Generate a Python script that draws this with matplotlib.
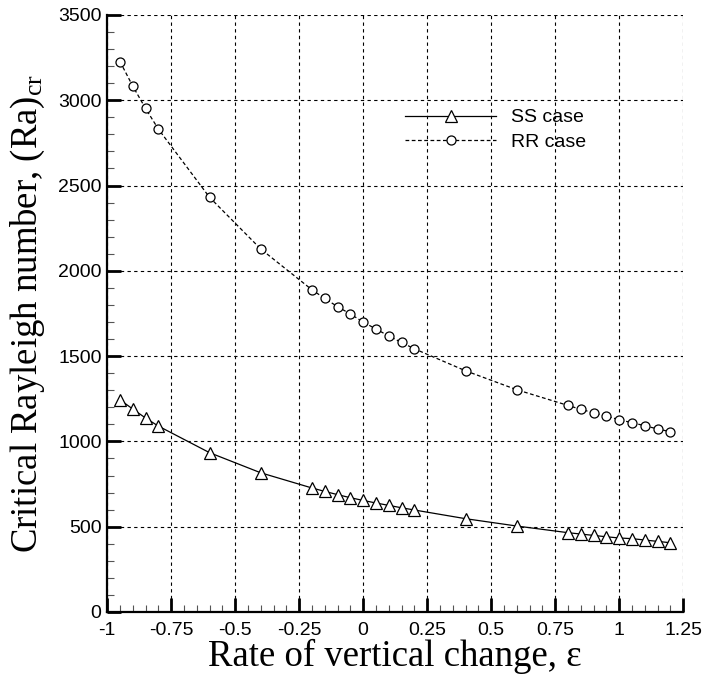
import matplotlib
matplotlib.use("Agg")
import matplotlib.pyplot as plt
from matplotlib.ticker import MultipleLocator, FixedLocator, FixedFormatter

plt.rcParams["mathtext.fontset"] = "custom"
plt.rcParams["mathtext.rm"] = "Liberation Serif"
plt.rcParams["mathtext.it"] = "Liberation Serif:italic"

eps = [-0.95, -0.9, -0.85, -0.8, -0.6, -0.4, -0.2, -0.15, -0.1, -0.05, 0.0,
       0.05, 0.1, 0.15, 0.2, 0.4, 0.6, 0.8, 0.85, 0.9, 0.95, 1.0, 1.05, 1.1,
       1.15, 1.2]
ss_case = [1244, 1190, 1137, 1090, 934, 816, 727, 707, 688, 670, 654, 639, 625,
           611, 598, 547, 504, 465, 457, 449, 441, 434, 430, 422, 414, 406]
rr_case = [3227, 3083, 2952, 2831, 2431, 2128, 1889, 1838, 1790, 1747, 1700,
           1659, 1618, 1580, 1543, 1414, 1303, 1211, 1188, 1168, 1149, 1127,
           1110, 1092, 1073, 1057]
xticks = [-1, -0.75, -0.5, -0.25, 0, 0.25, 0.5, 0.75, 1, 1.25]
xtick_labels = ["-1", "-0.75", "-0.5", "-0.25", "0", "0.25", "0.5", "0.75", "1", "1.25"]
yticks = [0, 500, 1000, 1500, 2000, 2500, 3000, 3500]

fig = plt.figure(figsize=(7.05, 6.80), dpi=100)
ax = fig.add_axes([0.152, 0.100, 0.817, 0.878])

ax.plot(eps, ss_case, color="black", lw=0.9, ls="-", marker="^", ms=8,
        mfc="white", mec="black", mew=0.9, label="SS case", zorder=3)
ax.plot(eps, rr_case, color="black", lw=0.9, ls=(0, (3, 2)), marker="o", ms=6.5,
        mfc="white", mec="black", mew=0.9, label="RR case", zorder=3)

ax.set_xlim(-1, 1.25)
ax.set_ylim(0, 3500)
ax.xaxis.set_major_locator(FixedLocator(xticks))
ax.xaxis.set_major_formatter(FixedFormatter(xtick_labels))
ax.xaxis.set_minor_locator(MultipleLocator(0.05))
ax.yaxis.set_major_locator(FixedLocator(yticks))
ax.yaxis.set_minor_locator(MultipleLocator(100))

ax.grid(True, which="major", color="black", ls=(0, (3, 3)), lw=0.8)
ax.set_axisbelow(True)

for s in ["top", "right"]:
    ax.spines[s].set_visible(False)
for s in ["left", "bottom"]:
    ax.spines[s].set_linewidth(1.6)

ax.tick_params(which="major", direction="in", length=10, width=2.0,
               labelsize=14, pad=4)
ax.tick_params(axis="x", which="major", pad=7)
ax.tick_params(which="minor", direction="in", length=5, width=0.8,
               color="#555555")
for lab in ax.get_xticklabels() + ax.get_yticklabels():
    lab.set_family("Liberation Sans")

ax.set_xlabel("Rate of vertical change, ε", family="Liberation Serif",
              fontsize=26.5, labelpad=0)
ax.set_ylabel("Critical Rayleigh number, (Ra)$_{\\mathrm{cr}}$",
              family="Liberation Serif", fontsize=26.5, labelpad=8)

leg = ax.legend(loc="upper left", bbox_to_anchor=(0.517, 0.843), frameon=False,
                prop={"family": "Liberation Sans", "size": 14},
                handlelength=4.7, handletextpad=0.75, labelspacing=0.35,
                borderpad=0, borderaxespad=0)

fig.savefig("out.png", dpi=100)
